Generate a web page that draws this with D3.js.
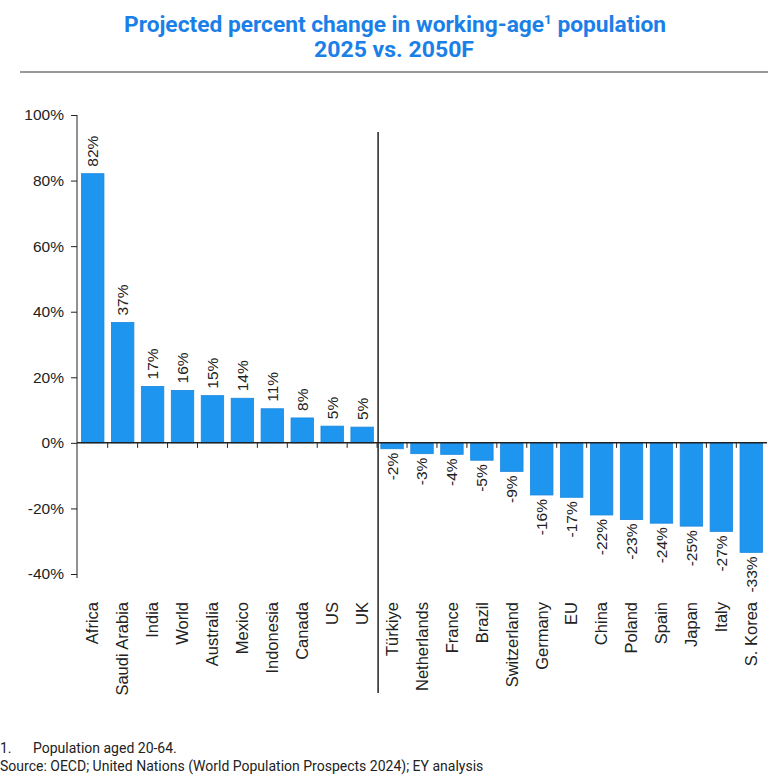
<!DOCTYPE html>
<html>
<head>
<meta charset="utf-8">
<script src="https://cdn.jsdelivr.net/npm/d3@7"></script>
<style>
  body { margin: 0; background: #fff; }
  svg { display: block; }
</style>
</head>
<body>
<script>
// data
var categories = ["Africa", "Saudi Arabia", "India", "World", "Australia", "Mexico", "Indonesia", "Canada", "US", "UK",
                  "Türkiye", "Netherlands", "France", "Brazil", "Switzerland", "Germany", "EU", "China", "Poland", "Spain", "Japan", "Italy", "S. Korea"];
var values = [82.1, 36.7, 17.2, 16.0, 14.4, 13.6, 10.4, 7.6, 5.1, 4.8,
              -1.8, -3.3, -3.5, -5.3, -8.7, -15.9, -16.6, -22.0, -23.4, -24.5, -25.4, -27.0, -33.4];
var labels = ["82%", "37%", "17%", "16%", "15%", "14%", "11%", "8%", "5%", "5%",
              "-2%", "-3%", "-4%", "-5%", "-9%", "-16%", "-17%", "-22%", "-23%", "-24%", "-25%", "-27%", "-33%"];
var yTicks = [-40, -20, 0, 20, 40, 60, 80, 100];

var width = 768, height = 775;
var blue = "#1e96f0";
var titleBlue = "#1a80e8";
var labelFont = "'Liberation Sans', Arial, sans-serif";

var svg = d3.select("body").append("svg").attr("width", width).attr("height", height);

// title
var title = svg.append("text")
  .attr("x", 124).attr("y", 32)
  .attr("textLength", 542).attr("lengthAdjust", "spacingAndGlyphs")
  .style("font-family", "Roboto, sans-serif").style("font-weight", "bold").style("font-size", "22px")
  .attr("fill", titleBlue);
title.append("tspan").text("Projected percent change in working-age");
title.append("tspan").attr("dy", -8).style("font-size", "13px").text("1");
title.append("tspan").attr("dy", 8).text(" population");

svg.append("text")
  .attr("x", 314).attr("y", 57)
  .attr("textLength", 160).attr("lengthAdjust", "spacingAndGlyphs")
  .style("font-family", "Roboto, sans-serif").style("font-weight", "bold").style("font-size", "22px")
  .attr("fill", titleBlue)
  .text("2025 vs. 2050F");

svg.append("line").attr("x1", 20).attr("x2", 768).attr("y1", 72).attr("y2", 72)
  .attr("stroke", "#333").attr("stroke-width", 1.2);

// scales
var x = d3.scaleBand().domain(categories).range([77, 767]).paddingInner(0.25).paddingOuter(0.15);
var y = d3.scaleLinear().domain([-40, 100]).range([574, 115]);
var step = x.step();

// y axis
var yAxis = svg.append("g").attr("transform", "translate(77,0)")
  .call(d3.axisLeft(y).tickValues(yTicks).tickSize(6).tickSizeOuter(0).tickPadding(7).tickFormat(function (d) { return d + "%"; }));
yAxis.selectAll("text").style("font-family", labelFont).style("font-size", "15.5px").attr("fill", "#222");
yAxis.selectAll("line, path").attr("stroke", "#222");
yAxis.select(".domain").attr("d", "M0," + y(100) + "V" + (y(-40) + 4));

// bars
svg.selectAll("rect.bar")
  .data(values)
  .enter()
  .append("rect")
  .attr("class", "bar")
  .attr("x", function (d, i) { return x(categories[i]); })
  .attr("width", x.bandwidth())
  .attr("y", function (d) { return d > 0 ? y(d) : y(0); })
  .attr("height", function (d) { return Math.abs(y(d) - y(0)); })
  .attr("fill", blue)
  .attr("stroke", "#1a86dc").attr("stroke-width", 0.8);

// zero line with ticks between bands
svg.append("line").attr("x1", 77).attr("x2", 767).attr("y1", y(0)).attr("y2", y(0))
  .attr("stroke", "#222").attr("stroke-width", 1.5);
svg.selectAll("line.xtick")
  .data(categories.slice(0, categories.length - 1))
  .enter()
  .append("line")
  .attr("class", "xtick")
  .attr("x1", function (d) { return x(d) + x.bandwidth() + step * 0.125; })
  .attr("x2", function (d) { return x(d) + x.bandwidth() + step * 0.125; })
  .attr("y1", y(0)).attr("y2", y(0) + 5)
  .attr("stroke", "#222");

// separator
var sepX = x("Türkiye") - step * 0.125 + 1;
svg.append("line").attr("x1", sepX).attr("x2", sepX).attr("y1", 132).attr("y2", 693)
  .attr("stroke", "#222").attr("stroke-width", 1.5);

// value labels
svg.selectAll("text.val")
  .data(values)
  .enter()
  .append("text")
  .attr("class", "val")
  .attr("transform", function (d, i) {
    var cx = x(categories[i]) + x.bandwidth() / 2;
    var yy = d > 0 ? y(d) - 7 : y(d) + 4;
    return "translate(" + cx + "," + yy + ") rotate(-90)";
  })
  .attr("dy", "0.35em")
  .attr("text-anchor", function (d) { return d > 0 ? "start" : "end"; })
  .style("font-family", labelFont).style("font-size", "15.5px")
  .attr("fill", "#222")
  .text(function (d, i) { return labels[i]; });

// category labels
svg.selectAll("text.cat")
  .data(categories)
  .enter()
  .append("text")
  .attr("class", "cat")
  .attr("transform", function (d) { return "translate(" + (x(d) + x.bandwidth() / 2) + ",602) rotate(-90)"; })
  .attr("dy", "0.35em")
  .attr("text-anchor", "end")
  .style("font-family", labelFont).style("font-size", "16.5px")
  .attr("fill", "#222")
  .text(function (d) { return d; });

// footnotes
var foot = svg.append("g").style("font-family", "Roboto, sans-serif").style("font-size", "14px").attr("fill", "#222");
foot.append("text").attr("x", 0).attr("y", 753).text("1.");
foot.append("text").attr("x", 33).attr("y", 753).text("Population aged 20-64.");
foot.append("text").attr("x", 0).attr("y", 771).text("Source: OECD; United Nations (World Population Prospects 2024); EY analysis");
</script>
</body>
</html>
